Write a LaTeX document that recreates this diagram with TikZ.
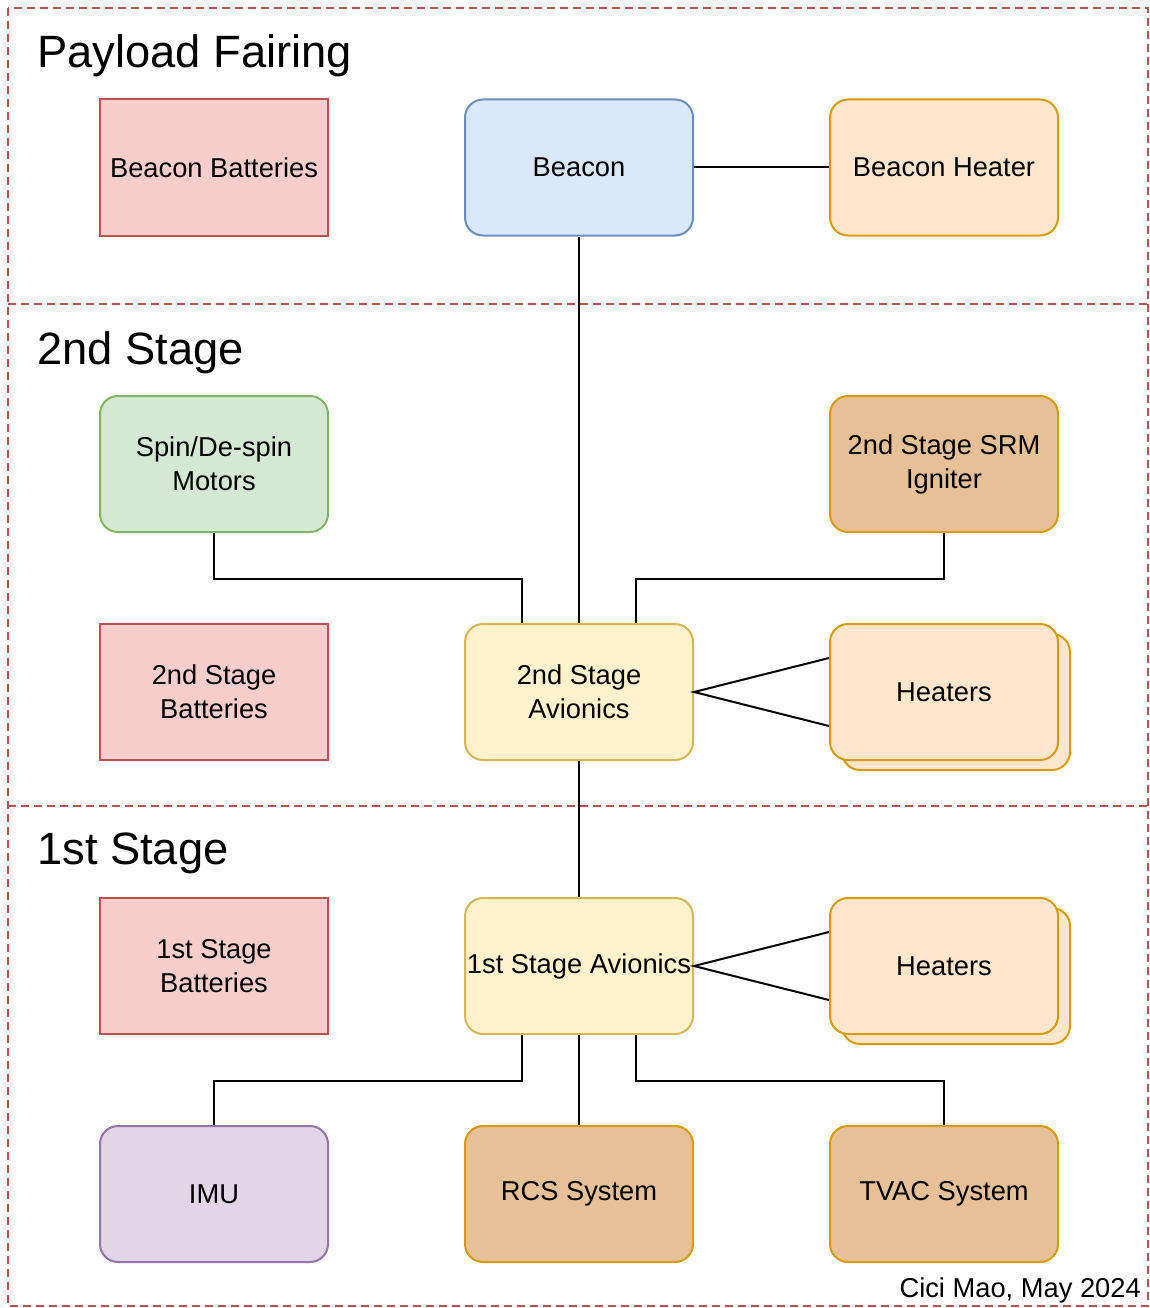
\documentclass[tikz,border=0pt]{standalone}
\usepackage{fontspec}
\setmainfont{Liberation Sans}
\usetikzlibrary{calc}
\definecolor{redF}{HTML}{F8CECC}\definecolor{redD}{HTML}{B85450}
\definecolor{blueF}{HTML}{DAE8FC}\definecolor{blueD}{HTML}{6C8EBF}
\definecolor{orF}{HTML}{FFE6CC}\definecolor{orD}{HTML}{D79B00}
\definecolor{grF}{HTML}{D5E8D4}\definecolor{grD}{HTML}{82B366}
\definecolor{tanF}{HTML}{E6C197}
\definecolor{yeF}{HTML}{FFF2CC}\definecolor{yeD}{HTML}{D6B656}
\definecolor{puF}{HTML}{E1D5E7}\definecolor{puD}{HTML}{9673A6}
\tikzset{
  box/.style={minimum width=228pt, minimum height=136pt, inner sep=0pt, line width=2pt, align=center,
    font=\fontsize{27.3}{34}\selectfont},
  rbox/.style={box, rounded corners=18pt},
  redbox/.style={box, fill=redF, draw=redD},
  bluebox/.style={rbox, fill=blueF, draw=blueD},
  orbox/.style={rbox, fill=orF, draw=orD},
  grbox/.style={rbox, fill=grF, draw=grD},
  tanbox/.style={rbox, fill=tanF, draw=orD},
  yebox/.style={rbox, fill=yeF, draw=yeD},
  pubox/.style={rbox, fill=puF, draw=puD},
  lane/.style={draw=redD, line width=1.5pt, dash pattern=on 8pt off 5pt},
  title/.style={anchor=base west, inner sep=0pt, font=\fontsize{45.3}{50}\selectfont},
  conn/.style={line width=2pt, black}
}
\begin{document}
\begin{tikzpicture}[x=1pt, y=-1pt]
\useasboundingbox (0,0) rectangle (1149,1308);
% swimlanes
\draw[lane] (8,8) rectangle (1148,1306);
\draw[lane] (8,304) -- (1148,304);
\draw[lane] (8,806) -- (1148,806);
\node[title] (t1) at (37,68) {Payload Fairing};
\node[title] (t2) at (37,364) {2nd Stage};
\node[title] (t3) at (37,864) {1st Stage};
% row A
\node[redbox] (bb) at (214,167.5) {Beacon Batteries};
\node[bluebox] (bc) at (579,167.5) {Beacon};
\node[orbox] (bh) at (944,167.5) {Beacon Heater};
% row B
\node[grbox] (sm) at (214,464) {Spin/De-spin\\Motors};
\node[tanbox] (ig) at (944,464) {2nd Stage SRM\\Igniter};
% row C
\node[redbox] (b2) at (214,692) {2nd Stage\\Batteries};
\node[yebox] (av2) at (579,692) {2nd Stage\\Avionics};
\node[orbox] (h2b) at (956,702) {};
\node[orbox] (h2) at (944,692) {Heaters};
% row D
\node[redbox] (b1) at (214,966) {1st Stage\\Batteries};
\node[yebox] (av1) at (579,966) {1st Stage Avionics};
\node[orbox] (h1b) at (956,976) {};
\node[orbox] (h1) at (944,966) {Heaters};
% row E
\node[pubox] (imu) at (214,1194) {IMU};
\node[tanbox] (rcs) at (579,1194) {RCS System};
\node[tanbox] (tv) at (944,1194) {TVAC System};
% footer
\node[anchor=base east, inner sep=0pt, font=\fontsize{27.3}{34}\selectfont] (ft) at (1141,1297) {Cici Mao, May 2024};
% connectors
\draw[conn] (bc.south) -- (av2.north);
\draw[conn] (bc.east) -- (bh.west);
\draw[conn] (sm.south) -- ++(0,46) -| ([xshift=-57pt]av2.north);
\draw[conn] (ig.south) -- ++(0,46) -| ([xshift=57pt]av2.north);
\draw[conn] ([yshift=34pt]h2.west) -- (av2.east) -- ([yshift=-34pt]h2.west);
\draw[conn] (av2.south) -- (av1.north);
\draw[conn] ([yshift=34pt]h1.west) -- (av1.east) -- ([yshift=-34pt]h1.west);
\draw[conn] ([xshift=-57pt]av1.south) -- ++(0,46) -| (imu.north);
\draw[conn] (av1.south) -- (rcs.north);
\draw[conn] ([xshift=57pt]av1.south) -- ++(0,46) -| (tv.north);
\end{tikzpicture}
\end{document}
